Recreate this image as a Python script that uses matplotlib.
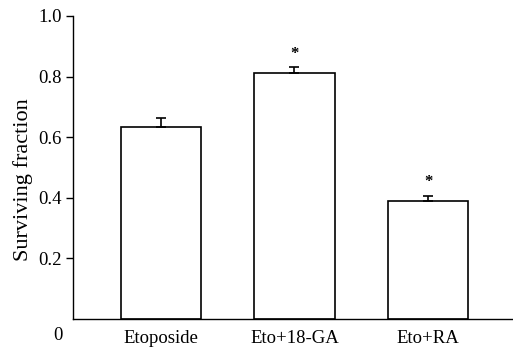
import matplotlib
matplotlib.use("Agg")
import matplotlib.pyplot as plt
import numpy as np

categories = ["Etoposide", "Eto+18-GA", "Eto+RA"]
values = [0.633, 0.812, 0.388]
errors = [0.032, 0.019, 0.019]
significant = [False, True, True]
yticks = [0.2, 0.4, 0.6, 0.8, 1.0]

plt.rcParams['font.family'] = ['Liberation Serif', 'DejaVu Serif']

fig = plt.figure(figsize=(5.13, 3.48), dpi=100)
ax = fig.add_axes([73/513, 29/348, 440/513, 303/348])

x = np.arange(len(categories))
ax.bar(x, values, width=0.6, color='white', edgecolor='black', linewidth=1.2, zorder=2)
ax.errorbar(x, values, yerr=[np.zeros(len(values)), errors], fmt='none',
            ecolor='black', elinewidth=1.2, capsize=3.6, capthick=1.2, zorder=3)
for xi, v, e, s in zip(x, values, errors, significant):
    if s:
        ax.annotate("*", (xi, v + e), xytext=(0, 4), textcoords='offset points',
                    ha='center', va='bottom', fontsize=12, fontweight='bold')

ax.set_xlim(-0.656, 2.635)
ax.set_ylim(0, 1.0)
ax.set_yticks(yticks)
ax.set_yticklabels([f"{t:.1f}" for t in yticks], fontsize=13.5)
ax.set_xticks(x)
ax.set_xticklabels(categories, fontsize=13.5)
ax.tick_params(axis='x', length=0, pad=8)
ax.tick_params(axis='y', length=5, width=1, direction='out', pad=3)
ax.spines['top'].set_visible(False)
ax.spines['right'].set_visible(False)
ax.spines['left'].set_linewidth(1)
ax.spines['bottom'].set_linewidth(1)
ax.set_ylabel("Surviving fraction", fontsize=16)
ax.yaxis.set_label_coords(-0.09, 0.459)
fig.text(58/513, 1 - 336/348, "0", fontsize=13.5, ha='center', va='center')

fig.savefig("out.png", dpi=100)
